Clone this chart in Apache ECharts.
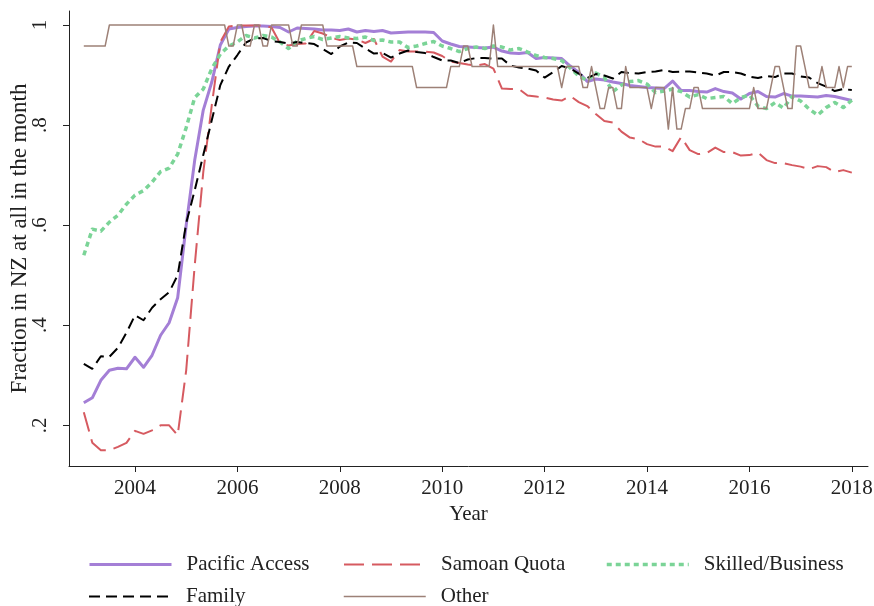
<!DOCTYPE html>
<html>
<head>
<meta charset="utf-8">
<script src="https://cdn.jsdelivr.net/npm/echarts@6/dist/echarts.min.js"></script>
<style>
  html, body { margin: 0; padding: 0; background: #fff; }
  #main { width: 874px; height: 606px; }
</style>
</head>
<body>
<div id="main"></div>
<script>
// time runs from Jan 2003; the four smooth groups are read every 2 months, Other every month
var startYear = 2003;
var xTicks = [2004, 2006, 2008, 2010, 2012, 2014, 2016, 2018];
var yTicks = [0.2, 0.4, 0.6, 0.8, 1];

var pacificAccess = [
  0.245, 0.255, 0.290, 0.310, 0.314, 0.313,
  0.336, 0.316, 0.340, 0.380, 0.405, 0.455,
  0.600, 0.730, 0.830, 0.886, 0.960, 0.992,
  0.995, 0.997, 0.998, 0.998, 0.997, 0.995,
  0.986, 0.994, 0.993, 0.992, 0.990, 0.990,
  0.989, 0.992, 0.986, 0.989, 0.987, 0.989,
  0.984, 0.985, 0.986, 0.986, 0.986, 0.985,
  0.968, 0.962, 0.957, 0.956, 0.955, 0.954,
  0.956, 0.948, 0.944, 0.943, 0.945, 0.933,
  0.935, 0.934, 0.933, 0.918, 0.905, 0.887,
  0.892, 0.890, 0.886, 0.883, 0.879, 0.877,
  0.875, 0.874, 0.873, 0.888, 0.869, 0.869,
  0.867, 0.866, 0.873, 0.867, 0.864, 0.852,
  0.863, 0.867, 0.857, 0.856, 0.863, 0.858,
  0.858, 0.857, 0.856, 0.859, 0.857, 0.853,
  0.849
];
var samoanQuota = [
  0.226, 0.165, 0.150, 0.150, 0.157, 0.165,
  0.189, 0.183, 0.190, 0.200, 0.200, 0.180,
  0.310, 0.520, 0.706, 0.840, 0.966, 0.997,
  0.999, 0.999, 0.999, 0.999, 0.995, 0.963,
  0.959, 0.962, 0.963, 0.988, 0.983, 0.975,
  0.970, 0.973, 0.971, 0.964, 0.972, 0.937,
  0.927, 0.950, 0.947, 0.947, 0.947, 0.945,
  0.938, 0.927, 0.924, 0.921, 0.919, 0.922,
  0.913, 0.873, 0.872, 0.872, 0.859, 0.857,
  0.855, 0.851, 0.849, 0.858, 0.846, 0.838,
  0.822, 0.808, 0.805, 0.787, 0.775, 0.772,
  0.762, 0.757, 0.757, 0.748, 0.776, 0.750,
  0.742, 0.744, 0.755, 0.746, 0.746, 0.739,
  0.740, 0.745, 0.730, 0.724, 0.724, 0.720,
  0.717, 0.712, 0.718, 0.716, 0.706, 0.710,
  0.705
];
var skilledBusiness = [
  0.540, 0.592, 0.588, 0.606, 0.620, 0.642,
  0.660, 0.669, 0.686, 0.707, 0.714, 0.742,
  0.795, 0.855, 0.872, 0.913, 0.942, 0.958,
  0.966, 0.979, 0.974, 0.979, 0.976, 0.966,
  0.953, 0.968, 0.973, 0.977, 0.971, 0.974,
  0.977, 0.974, 0.973, 0.976, 0.969, 0.970,
  0.966, 0.966, 0.955, 0.958, 0.963, 0.967,
  0.958, 0.953, 0.947, 0.953, 0.956, 0.953,
  0.958, 0.956, 0.950, 0.953, 0.946, 0.939,
  0.935, 0.933, 0.929, 0.914, 0.898, 0.889,
  0.904, 0.895, 0.867, 0.880, 0.887, 0.889,
  0.882, 0.865, 0.868, 0.872, 0.867, 0.856,
  0.861, 0.853, 0.855, 0.857, 0.843, 0.855,
  0.860, 0.838, 0.833, 0.845, 0.834, 0.857,
  0.848, 0.832, 0.820, 0.835, 0.845, 0.835,
  0.850
];
var family = [
  0.323, 0.313, 0.338, 0.337, 0.355, 0.385,
  0.420, 0.410, 0.435, 0.452, 0.466, 0.500,
  0.604, 0.670, 0.740, 0.810, 0.880, 0.917,
  0.940, 0.965, 0.973, 0.974, 0.968, 0.966,
  0.963, 0.966, 0.964, 0.962, 0.952, 0.942,
  0.957, 0.965, 0.964, 0.953, 0.943, 0.944,
  0.935, 0.943, 0.949, 0.946, 0.944, 0.936,
  0.929, 0.929, 0.924, 0.931, 0.934, 0.934,
  0.933, 0.933, 0.919, 0.915, 0.913, 0.909,
  0.895, 0.906, 0.918, 0.913, 0.903, 0.894,
  0.902, 0.899, 0.893, 0.906, 0.904, 0.903,
  0.906, 0.907, 0.910, 0.906, 0.907, 0.907,
  0.905, 0.903, 0.899, 0.906, 0.906, 0.903,
  0.897, 0.894, 0.898, 0.896, 0.903, 0.903,
  0.897, 0.895, 0.884, 0.877, 0.868, 0.872,
  0.870
];
var other = [
  0.958, 0.958, 0.958, 0.958, 0.958, 0.958, 1, 1, 1, 1, 1, 1,
  1, 1, 1, 1, 1, 1, 1, 1, 1, 1, 1, 1,
  1, 1, 1, 1, 1, 1, 1, 1, 1, 1, 0.958, 0.958,
  1, 1, 0.958, 0.958, 1, 1, 0.958, 0.958, 1, 1, 1, 1,
  1, 0.958, 0.958, 1, 1, 1, 1, 1, 1, 0.958, 0.958, 0.958,
  0.958, 0.958, 0.958, 0.958, 0.917, 0.917, 0.917, 0.917, 0.917, 0.917, 0.917, 0.917,
  0.917, 0.917, 0.917, 0.917, 0.917, 0.917, 0.875, 0.875, 0.875, 0.875, 0.875, 0.875,
  0.875, 0.875, 0.917, 0.917, 0.917, 0.958, 0.958, 0.917, 0.917, 0.917, 0.917, 0.917,
  1, 0.917, 0.917, 0.917, 0.917, 0.917, 0.917, 0.917, 0.917, 0.917, 0.917, 0.917,
  0.917, 0.917, 0.917, 0.917, 0.875, 0.917, 0.917, 0.917, 0.917, 0.875, 0.875, 0.917,
  0.875, 0.833, 0.833, 0.875, 0.875, 0.833, 0.833, 0.917, 0.875, 0.875, 0.875, 0.875,
  0.875, 0.833, 0.875, 0.875, 0.875, 0.792, 0.875, 0.792, 0.792, 0.833, 0.833, 0.875,
  0.875, 0.833, 0.833, 0.833, 0.833, 0.833, 0.833, 0.833, 0.833, 0.833, 0.833, 0.833,
  0.833, 0.875, 0.833, 0.833, 0.833, 0.875, 0.917, 0.917, 0.875, 0.833, 0.833, 0.958,
  0.958, 0.917, 0.875, 0.875, 0.875, 0.917, 0.875, 0.875, 0.875, 0.917, 0.875, 0.917,
  0.917
];

var font = '"Liberation Serif", "Times New Roman", serif';

function onGrid(values, perYear) {
  return values.map(function (v, i) { return [startYear + i / perYear, v]; });
}

function lineSeries(name, values, perYear, color, width, dash) {
  return {
    name: name,
    type: 'line',
    data: onGrid(values, perYear),
    symbol: 'none',
    smooth: false,
    silent: true,
    lineStyle: { color: color, width: width, type: dash, cap: 'butt', join: 'round' },
    itemStyle: { color: color }
  };
}

function legendAt(name, left, top) {
  return {
    data: [name],
    left: left,
    top: top,
    padding: 0,
    itemWidth: 82,
    itemHeight: 14,
    itemStyle: { opacity: 0 },
    lineStyle: { width: 'inherit' },
    textStyle: { fontFamily: font, fontSize: 21, color: '#222', padding: [0, 0, 0, 10] },
    selectedMode: false
  };
}

var chart = echarts.init(document.getElementById('main'), null, { renderer: 'canvas' });
chart.setOption({
  animation: false,
  backgroundColor: '#fff',
  grid: { left: 69, right: 6, top: 11, bottom: 140, containLabel: false, outerBoundsMode: 'none' },
  legend: [
    legendAt('Pacific Access', 88, 554),
    legendAt('Samoan Quota', 343, 554),
    legendAt('Skilled/Business', 605, 554),
    legendAt('Family', 88, 586),
    legendAt('Other', 343, 586)
  ],
  xAxis: {
    type: 'value',
    min: 2002.711,
    max: 2018.316,
    name: 'Year',
    nameLocation: 'middle',
    nameGap: 38,
    nameMoveOverlap: false,
    nameTextStyle: { fontFamily: font, fontSize: 21, color: '#222' },
    axisLine: { show: true, lineStyle: { color: '#222', width: 1 } },
    axisTick: { show: true, length: 6, customValues: xTicks, lineStyle: { color: '#222', width: 1 } },
    axisLabel: {
      customValues: xTicks,
      margin: 12,
      fontFamily: font,
      fontSize: 21,
      color: '#222',
      formatter: function (v) { return String(Math.round(v)); }
    },
    splitLine: { show: false }
  },
  yAxis: {
    type: 'value',
    min: 0.1187,
    max: 1.028,
    name: 'Fraction in NZ at all in the month',
    nameLocation: 'middle',
    nameRotate: 90,
    nameGap: 38,
    nameMoveOverlap: false,
    nameTextStyle: { fontFamily: font, fontSize: 23, color: '#222' },
    axisLine: { show: true, lineStyle: { color: '#222', width: 1 } },
    axisTick: { show: true, length: 6, customValues: yTicks, lineStyle: { color: '#222', width: 1 } },
    axisLabel: {
      customValues: yTicks,
      rotate: 90,
      margin: 18,
      fontFamily: font,
      fontSize: 21,
      color: '#222',
      formatter: function (v) { return v >= 1 ? '1' : v.toFixed(1).replace(/^0/, ''); }
    },
    splitLine: { show: false }
  },
  series: [
    lineSeries('Pacific Access', pacificAccess, 6, '#a47fd6', 3, 'solid'),
    lineSeries('Samoan Quota', samoanQuota, 6, '#d65a60', 2, [20, 8]),
    lineSeries('Skilled/Business', skilledBusiness, 6, '#7bd497', 3.5, [5, 4]),
    lineSeries('Family', family, 6, '#000000', 2, [11, 6]),
    lineSeries('Other', other, 12, '#9d8177', 1.5, 'solid')
  ]
});
</script>
</body>
</html>
